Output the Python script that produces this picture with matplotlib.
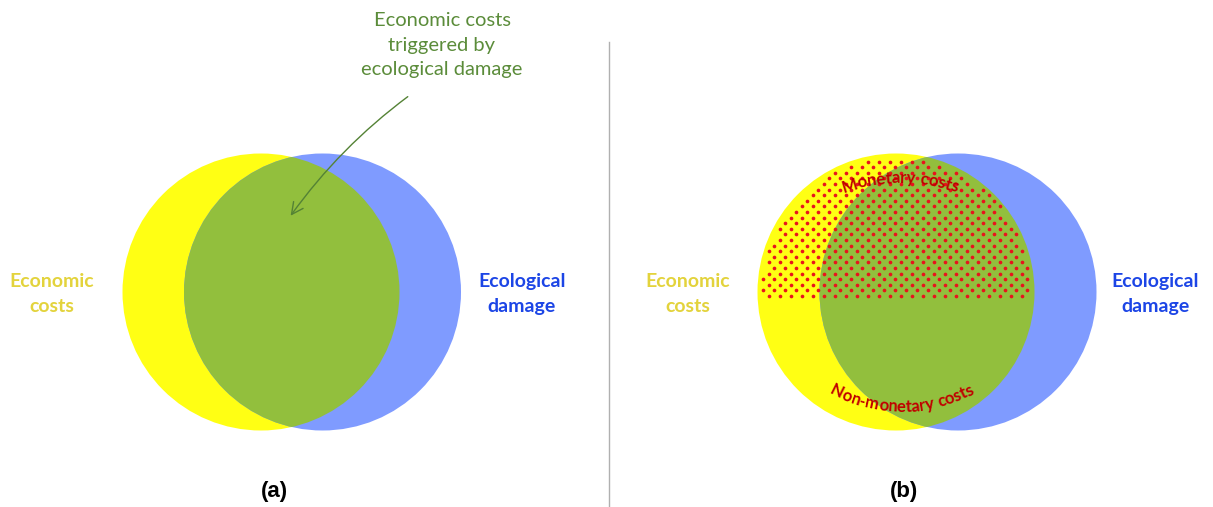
import numpy as np
import matplotlib.pyplot as plt
from matplotlib.patches import Circle, FancyArrowPatch
from matplotlib.font_manager import FontProperties
from matplotlib.textpath import TextToPath

# chart content
set_labels = ["Economic\ncosts", "Ecological\ndamage"]
set_colors = ["#FFFF14", "#7F9BFF"]
label_colors = ["#E3D33C", "#1C45E6"]
overlap_color = "#92BF3D"
panel_labels = ["(a)", "(b)"]
overlap_note = "Economic costs\ntriggered by\necological damage"
cost_split = ["Monetary costs", "Non-monetary costs"]
note_color = "#5B8C3A"
split_text_color = "#C00000"
dot_color = "#E8141C"

W, H, DPI = 1213, 507, 100

# layout (pixel coordinates, y downwards)
yellow_x = [261, 896]
blue_x = [322.5, 958]
circ_y = 292
radius = 138.5
left_label_x = [52, 688]
right_label_x = [522, 1155]
panel_label_x = [274, 904]

fig = plt.figure(figsize=(W / DPI, H / DPI), dpi=DPI)
ax = fig.add_axes([0, 0, 1, 1])
ax.set_xlim(0, W)
ax.set_ylim(H, 0)
ax.set_aspect('equal')
ax.axis('off')

t2p = TextToPath()


def advance(ch, prop):
    # width of one character incl. its spacing, in pixels
    w2 = t2p.get_text_width_height_descent("x" + ch + "x", prop, ismath=False)[0]
    w1 = t2p.get_text_width_height_descent("xx", prop, ismath=False)[0]
    return (w2 - w1) * DPI / 72


def arc_text(text, cx, cy, r, top, prop, color):
    adv = [advance(c, prop) for c in text]
    s = -sum(adv) / 2
    for ch, a in zip(text, adv):
        phi = (s + a / 2) / r
        if top:
            x, y, rot = cx + r * np.sin(phi), cy - r * np.cos(phi), -np.degrees(phi)
        else:
            x, y, rot = cx + r * np.sin(phi), cy + r * np.cos(phi), np.degrees(phi)
        ax.text(x, y, ch, fontproperties=prop, color=color, rotation=rot,
                rotation_mode='anchor', ha='center', va='baseline', zorder=6)
        s += a


for i in range(2):
    yc = Circle((yellow_x[i], circ_y), radius, color=set_colors[0], lw=0, zorder=1)
    bc = Circle((blue_x[i], circ_y), radius, color=set_colors[1], lw=0, zorder=2)
    ax.add_patch(yc)
    ax.add_patch(bc)
    # overlap = blue circle clipped to the yellow one
    lens = Circle((blue_x[i], circ_y), radius, color=overlap_color, lw=0, zorder=3)
    ax.add_patch(lens)
    lens.set_clip_path(yc)

    ax.text(left_label_x[i], 294, set_labels[0], color=label_colors[0],
            family='Lato', weight='bold', fontsize=14, ha='center', va='center',
            linespacing=1.55)
    ax.text(right_label_x[i], 294, set_labels[1], color=label_colors[1],
            family='Lato', weight='bold', fontsize=14, ha='center', va='center',
            linespacing=1.55)
    ax.text(panel_label_x[i], 491, panel_labels[i], family='Liberation Sans',
            weight='bold', fontsize=16, ha='center', va='center')

# note + arrow in panel (a)
ax.text(442, 45, overlap_note, color=note_color, family='Lato', fontsize=14.5,
        ha='center', va='center', linespacing=1.55)
arr = FancyArrowPatch((410, 95), (289, 218), connectionstyle='arc3,rad=0.08',
                      arrowstyle='->,head_length=0.7,head_width=0.35',
                      mutation_scale=12, color='#548235', lw=1.0, zorder=7)
ax.add_patch(arr)

# dotted upper half of the yellow set in panel (b)
DOT_DX, DOT_DY = 11.0, 5.6
cx = yellow_x[1]
rows = np.arange(296, circ_y - radius, -DOT_DY)
pts = []
for k, y in enumerate(rows):
    shift = 0 if k % 2 == 0 else DOT_DX / 2
    xs = np.arange(cx - radius + shift, cx + radius, DOT_DX)
    for x in xs:
        if np.hypot(x - cx, y - circ_y) <= radius - 4:
            pts.append((x, y))
pts = np.array(pts)
ax.scatter(pts[:, 0], pts[:, 1], s=7, color=dot_color, linewidths=0, zorder=4)

split_prop = FontProperties(family='Lato', weight='bold', size=12)
arc_text(cost_split[0], 900, 353, 170, True, split_prop, split_text_color)
arc_text(cost_split[1], 902, 262, 150, False, split_prop, split_text_color)

# divider
ax.plot([609, 609], [42, H], color='#B0B0B0', lw=1.0, zorder=0)

fig.savefig('out.png', dpi=DPI)
